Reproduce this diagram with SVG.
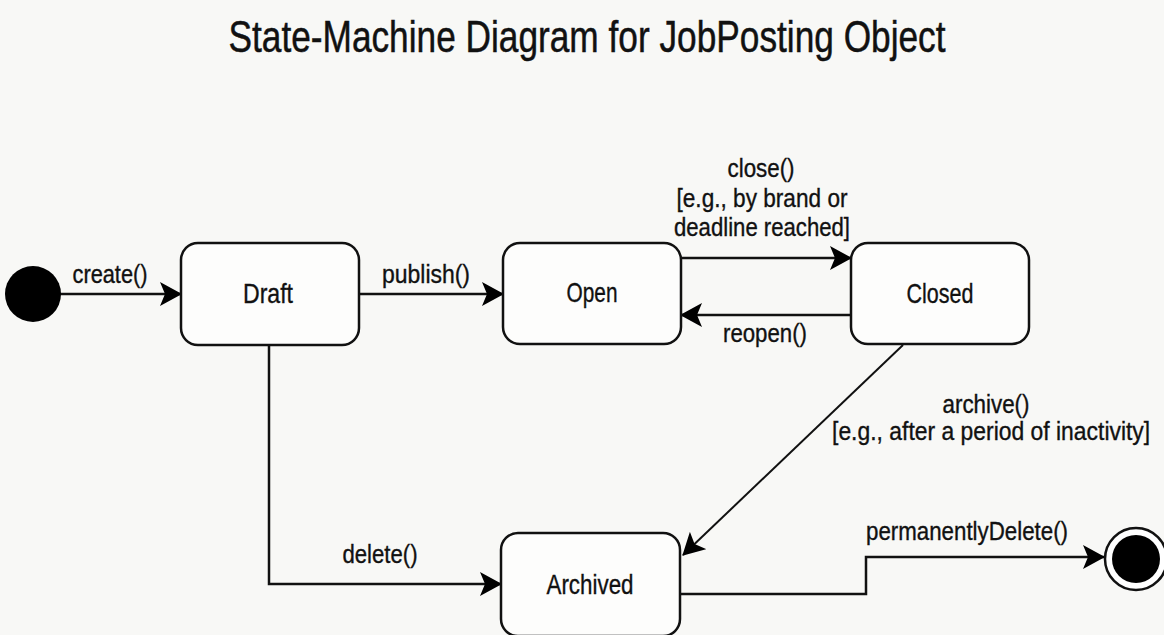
<svg xmlns="http://www.w3.org/2000/svg" width="1164" height="635" viewBox="0 0 1164 635">
<defs>
<marker id="arr" viewBox="0 0 22 24" refX="21" refY="12" markerWidth="22" markerHeight="24" markerUnits="userSpaceOnUse" orient="auto">
<path d="M0,0 L22,12 L0,24 L5,12 Z" fill="#000"/>
</marker>
<style>
text{font-family:"Liberation Sans",Arial,sans-serif;fill:#111;stroke:#111;stroke-width:0.35;}
.t{font-size:45px;text-anchor:middle;stroke-width:0.5;}
.n{font-size:28px;text-anchor:middle;}
.l{font-size:25px;text-anchor:middle;}
.box{fill:#fdfdfc;stroke:#111;stroke-width:2.5;}
.c{fill:none;stroke:#111;stroke-width:2.5;marker-end:url(#arr);}
</style>
</defs>
<rect width="1164" height="635" fill="#f8f8f6"/>
<text class="t" x="587" y="52" textLength="717" lengthAdjust="spacingAndGlyphs">State-Machine Diagram for JobPosting Object</text>
<g id="connectors">
<line class="c" x1="60" y1="294" x2="181" y2="294"/>
<line class="c" x1="359" y1="294" x2="503" y2="294"/>
<line class="c" x1="681" y1="258" x2="851" y2="258"/>
<line class="c" x1="851" y1="315" x2="681" y2="315"/>
<line class="c" x1="903" y1="345" x2="683" y2="555" style="stroke-width:2"/>
<polyline class="c" points="269,345 269,584 501,584"/>
<polyline class="c" points="680,594 866,594 866,557 1104,557"/>
<text class="l" x="110" y="283" textLength="75" lengthAdjust="spacingAndGlyphs">create()</text>
<text class="l" x="426" y="283" textLength="88" lengthAdjust="spacingAndGlyphs">publish()</text>
<text class="l" x="761" y="177" textLength="67" lengthAdjust="spacingAndGlyphs">close()</text>
<text class="l" x="762" y="207" textLength="171" lengthAdjust="spacingAndGlyphs">[e.g., by brand or</text>
<text class="l" x="762" y="236" textLength="176" lengthAdjust="spacingAndGlyphs">deadline reached]</text>
<text class="l" x="765" y="342" textLength="84" lengthAdjust="spacingAndGlyphs">reopen()</text>
<text class="l" x="986" y="413" textLength="87" lengthAdjust="spacingAndGlyphs">archive()</text>
<text class="l" x="1082" y="440" transform="scale(0.916,1)">[e.g., after a period of inactivity]</text>
<text class="l" x="380" y="563" textLength="75" lengthAdjust="spacingAndGlyphs">delete()</text>
<text class="l" x="967" y="540" textLength="202" lengthAdjust="spacingAndGlyphs">permanentlyDelete()</text>
</g>
<g id="initial"><circle cx="33" cy="294" r="28" fill="#000"/></g>
<g id="draft"><rect class="box" x="181" y="243" width="178" height="102" rx="17"/><text class="n" x="268" y="303" textLength="50" lengthAdjust="spacingAndGlyphs">Draft</text></g>
<g id="open"><rect class="box" x="503" y="243" width="178" height="101" rx="17"/><text class="n" x="592" y="302" textLength="51" lengthAdjust="spacingAndGlyphs">Open</text></g>
<g id="closed"><rect class="box" x="851" y="243" width="178" height="101" rx="17"/><text class="n" x="940" y="303" textLength="67" lengthAdjust="spacingAndGlyphs">Closed</text></g>
<g id="archived"><rect class="box" x="501" y="533" width="179" height="103" rx="17"/><text class="n" x="590" y="594" textLength="87" lengthAdjust="spacingAndGlyphs">Archived</text></g>
<g id="final"><circle cx="1136" cy="559" r="31" fill="#fff" stroke="#111" stroke-width="2.5"/><circle cx="1136" cy="559" r="24" fill="#000"/></g>
</svg>
